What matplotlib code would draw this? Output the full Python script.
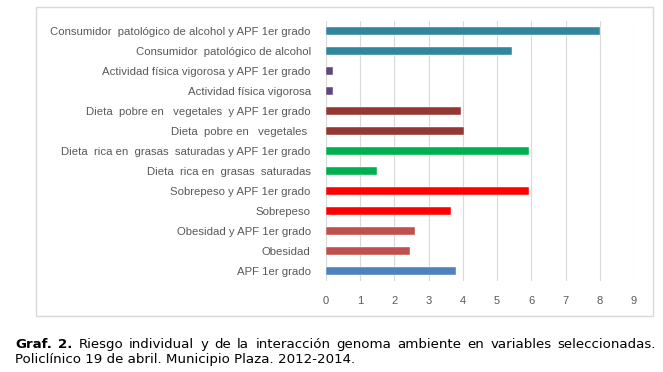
import matplotlib
matplotlib.use("Agg")
import matplotlib.pyplot as plt
from matplotlib.patches import Rectangle

categories = [
    "Consumidor  patológico de alcohol y APF 1er grado",
    "Consumidor  patológico de alcohol",
    "Actividad física vigorosa y APF 1er grado",
    "Actividad física vigorosa",
    "Dieta  pobre en   vegetales  y APF 1er grado",
    "Dieta  pobre en   vegetales ",
    "Dieta  rica en  grasas  saturadas y APF 1er grado",
    "Dieta  rica en  grasas  saturadas",
    "Sobrepeso y APF 1er grado",
    "Sobrepeso",
    "Obesidad y APF 1er grado",
    "Obesidad",
    "APF 1er grado",
]
values = [8.0, 5.44, 0.2, 0.2, 3.94, 4.02, 5.93, 1.48, 5.93, 3.66, 2.61, 2.45, 3.80]
colors = ["#31859C", "#31859C", "#5F497A", "#5F497A", "#953735", "#953735",
          "#00B050", "#00B050", "#FF0000", "#FF0000", "#C0504D", "#C0504D", "#4F81BD"]
xticks = list(range(0, 10))
caption_bold = "Graf. 2."
caption_line1 = "Riesgo individual y de la interacción genoma ambiente en variables seleccionadas."
caption_line2 = "Policlínico 19 de abril. Municipio Plaza. 2012-2014."

W, H = 663, 372
fig = plt.figure(figsize=(W/100, H/100), dpi=100)
fig.patch.set_facecolor("white")

# chart border
fig.patches.append(Rectangle((36/W, 1-316/H), (653-36)/W, (316-7)/H,
                             transform=fig.transFigure, fill=False,
                             edgecolor="#D9D9D9", linewidth=1.0))

ax = fig.add_axes([326/W, 1-281/H, (634-326)/W, (281-21)/H])
ypos = list(range(len(categories)))
ax.barh(ypos, values, height=0.4, color=colors, edgecolor="white", linewidth=0.3, zorder=3)
ax.set_ylim(len(categories)-0.5, -0.5)
ax.set_xlim(0, 9)
ax.set_xticks(xticks)
ax.set_xticklabels([str(t) for t in xticks], fontsize=8, color="#595959",
                   family="Liberation Sans")
ax.set_yticks(ypos)
ax.set_yticklabels(categories, fontsize=8.2, color="#595959", family="Liberation Sans")
ax.tick_params(axis="both", length=0)
ax.tick_params(axis="x", pad=11)
ax.tick_params(axis="y", pad=11)
ax.grid(axis="x", color="#D9D9D9", linewidth=0.8, zorder=0)
for s in ax.spines.values():
    s.set_visible(False)

# caption, justified first line
fs = 9.6
renderer = fig.canvas.get_renderer()
x_left, x_right = 15, 656
y1, y2 = 1-348/H, 1-363/H
words = [(w, "bold") for w in caption_bold.split()] + \
        [(w, "normal") for w in caption_line1.split()]
arts = []
widths = []
for w, wt in words:
    t = fig.text(0, y1, w, fontsize=fs, fontweight=wt, family="DejaVu Sans",
                 va="baseline", ha="left")
    bb = t.get_window_extent(renderer)
    arts.append(t)
    widths.append(bb.width)
gap = (x_right - x_left - sum(widths)) / (len(words) - 1)
x = x_left
for t, wd in zip(arts, widths):
    t.set_x(x / W)
    x += wd + gap
fig.text(x_left/W, y2, caption_line2, fontsize=fs, va="baseline", ha="left",
         family="DejaVu Sans")

fig.savefig("out.png", dpi=100)
